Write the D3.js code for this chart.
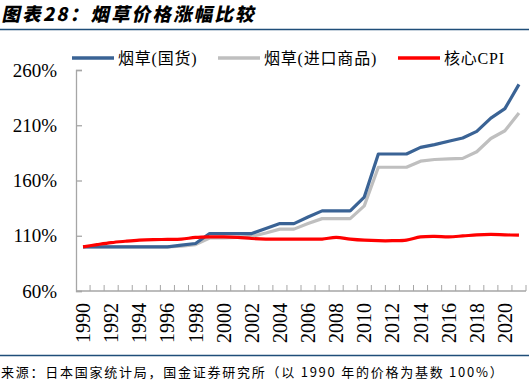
<!DOCTYPE html>
<html>
<head>
<meta charset="utf-8">
<script src="https://cdn.jsdelivr.net/npm/d3@7"></script>
<style>
  body { margin: 0; background: #fff; }
  svg { display: block; }
</style>
</head>
<body>
<div id="chart"></div>
<script>
// data (1990 price = 100%)
var years = d3.range(1990, 2022);
var domestic = [100, 100, 100, 100, 100, 100, 100, 101.5, 103, 112,
                112, 112, 112, 116.5, 121, 121, 127, 132.5, 132.5, 132.5,
                145, 184, 184, 184, 190, 192.5, 195.5, 198.5, 204.5, 216.5,
                225, 247];
var imported = [100, 100, 100, 100, 100, 100, 100, 100.5, 102, 108,
                108, 108.5, 109.5, 112.5, 116, 116, 121, 125.5, 125.5, 125.5,
                137, 172, 172, 172, 177.5, 179, 179.5, 180, 186, 198,
                205, 221];
var coreCpi = [100, 102, 103.8, 105, 106, 106.5, 106.7, 107, 108.5, 109,
               109, 108.5, 107.5, 107, 107, 107, 107, 107, 108.5, 107,
               106, 105.5, 105.5, 106, 109, 109.5, 109, 109.8, 110.8, 111.2,
               110.8, 110.5];
var yTicks = [60, 110, 160, 210, 260];
var xLabelYears = d3.range(1990, 2022, 2);
var seriesNames = ["烟草(国货)", "烟草(进口商品)", "核心CPI"];
var seriesColors = ["#3a6395", "#bfbfbf", "#ff0000"];

var w = 529, h = 390;
var svg = d3.select("#chart").append("svg")
  .attr("width", w)
  .attr("height", h);

// title + rules
svg.append("text")
  .attr("x", 2)
  .attr("y", 21)
  .attr("transform", "skewX(-12) translate(4,0)")
  .attr("font-family", "Noto Sans CJK SC")
  .attr("font-weight", 900)
  .attr("font-size", 18.5)
  .attr("letter-spacing", 2.2)
  .attr("fill", "#000")
  .text("图表28：烟草价格涨幅比较");

svg.append("line")
  .attr("x1", 0).attr("x2", w)
  .attr("y1", 29.5).attr("y2", 29.5)
  .attr("stroke", "#1f4e79").attr("stroke-width", 1.5);

svg.append("line")
  .attr("x1", 0).attr("x2", w)
  .attr("y1", 355.5).attr("y2", 355.5)
  .attr("stroke", "#1f4e79").attr("stroke-width", 1.5);

svg.append("text")
  .attr("x", 1)
  .attr("y", 377)
  .attr("font-family", "Noto Sans CJK SC")
  .attr("font-size", 13)
  .attr("letter-spacing", 1.75)
  .attr("fill", "#000")
  .text("来源：日本国家统计局，国金证券研究所（以 1990 年的价格为基数 100%）");

// scales
var x = d3.scaleBand().domain(years).range([76, 526]);
var y = d3.scaleLinear().domain([60, 260]).range([291, 70]);
var axisColor = "#a6a6a6";

// y axis (ticks inside)
var yAxis = svg.append("g")
  .attr("transform", "translate(76,0)")
  .call(d3.axisRight(y).tickValues(yTicks).tickSize(6).tickFormat(""));
yAxis.select(".domain").attr("stroke", axisColor).attr("stroke-width", 1.3);
yAxis.selectAll(".tick line").attr("stroke", axisColor).attr("stroke-width", 1.3);

svg.selectAll(".ylab")
  .data(yTicks)
  .enter()
  .append("text")
  .attr("class", "ylab")
  .attr("x", 57)
  .attr("y", (d) => y(d) + 6.5)
  .attr("text-anchor", "end")
  .attr("font-family", "Liberation Serif")
  .attr("font-size", 19)
  .attr("fill", "#000")
  .text((d) => d + "%");

// x axis: ticks between categories, pointing up
var xAxis = svg.append("g")
  .attr("transform", "translate(0,291)");
xAxis.append("line")
  .attr("x1", 76).attr("x2", 526)
  .attr("stroke", axisColor).attr("stroke-width", 1.3);
xAxis.selectAll(".xt")
  .data(years.slice(1).concat([2022]))
  .enter()
  .append("line")
  .attr("class", "xt")
  .attr("x1", (d) => d === 2022 ? 526 : x(d))
  .attr("x2", (d) => d === 2022 ? 526 : x(d))
  .attr("y1", 0).attr("y2", -6)
  .attr("stroke", axisColor).attr("stroke-width", 1);

svg.selectAll(".xlab")
  .data(xLabelYears)
  .enter()
  .append("text")
  .attr("class", "xlab")
  .attr("transform", (d) => "translate(" + (x(d) + x.bandwidth() / 2 + 7) + ",303) rotate(-90)")
  .attr("text-anchor", "end")
  .attr("font-family", "Liberation Serif")
  .attr("font-size", 20)
  .attr("fill", "#000")
  .text((d) => d);

// lines
var seriesData = [domestic, imported, coreCpi];
var straight = d3.line()
  .x((d, i) => x(years[i]) + x.bandwidth() / 2)
  .y((d) => y(d));
var smooth = d3.line()
  .curve(d3.curveCatmullRom)
  .x((d, i) => x(years[i]) + x.bandwidth() / 2)
  .y((d) => y(d));

[1, 0, 2].forEach(function(k) {
  svg.append("path")
    .datum(seriesData[k])
    .attr("d", k === 2 ? smooth : straight)
    .attr("fill", "none")
    .attr("stroke", seriesColors[k])
    .attr("stroke-width", 3.2)
    .attr("stroke-linejoin", "round");
});

// legend
var legendX = [72, 218, 398];
var legend = svg.selectAll(".lg")
  .data(seriesNames)
  .enter()
  .append("g")
  .attr("class", "lg")
  .attr("transform", (d, i) => "translate(" + legendX[i] + ",58)");
legend.append("line")
  .attr("x1", 0).attr("x2", 42)
  .attr("stroke", (d, i) => seriesColors[i])
  .attr("stroke-width", 3.5);
legend.append("text")
  .attr("x", 46)
  .attr("y", 6)
  .attr("font-family", "Liberation Serif, Noto Sans CJK SC")
  .attr("font-size", 16)
  .attr("letter-spacing", 0.8)
  .attr("fill", "#000")
  .text((d) => d);
</script>
</body>
</html>
